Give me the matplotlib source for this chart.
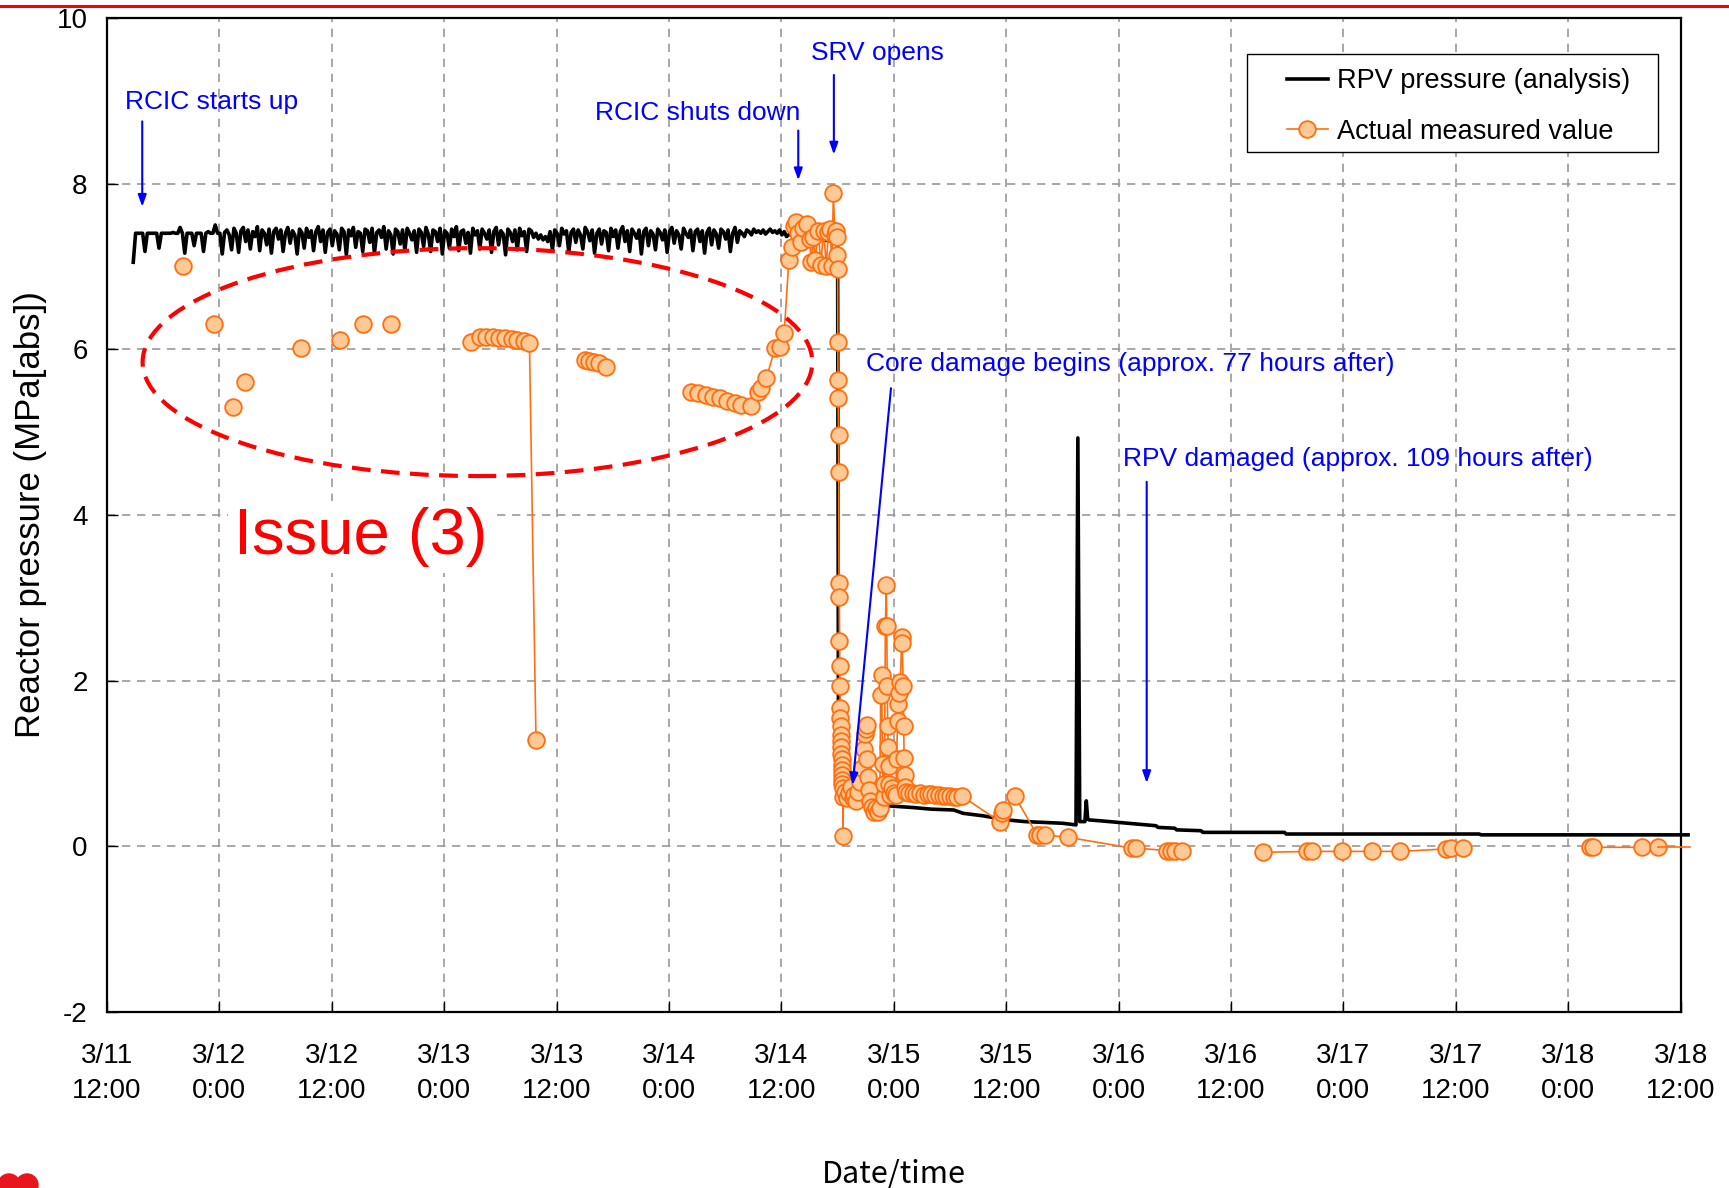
import numpy as np
import matplotlib
matplotlib.use('Agg')
import matplotlib.pyplot as plt
from matplotlib import font_manager
from matplotlib.patches import Ellipse, Rectangle
from matplotlib.lines import Line2D

# time axis: hours counted from 3/11 12:00
tick_hours = [0, 12, 24, 36, 48, 60, 72, 84, 96, 108, 120, 132, 144, 156, 168]
tick_labels = ['3/11\n12:00', '3/12\n0:00', '3/12\n12:00', '3/13\n0:00', '3/13\n12:00',
               '3/14\n0:00', '3/14\n12:00', '3/15\n0:00', '3/15\n12:00', '3/16\n0:00',
               '3/16\n12:00', '3/17\n0:00', '3/17\n12:00', '3/18\n0:00', '3/18\n12:00']

# RPV pressure (analysis) while RCIC cycles, sampled every 0.25 h from 2.8 h
rcic_start = 2.8
rcic_step = 0.25
rcic_p = [
    7.05, 7.40, 7.40, 7.40, 7.40, 7.18, 7.40, 7.40, 7.40, 7.40, 7.40, 7.22, 7.40, 7.40, 7.40, 7.40, 7.40, 7.41, 7.40, 7.40,
    7.47, 7.40, 7.16, 7.40, 7.40, 7.40, 7.25, 7.40, 7.40, 7.40, 7.18, 7.40, 7.42, 7.40, 7.40, 7.50, 7.40, 7.40, 7.15, 7.41,
    7.44, 7.38, 7.20, 7.46, 7.40, 7.17, 7.43, 7.47, 7.30, 7.44, 7.21, 7.42, 7.36, 7.48, 7.19, 7.44, 7.40, 7.26, 7.45, 7.16,
    7.42, 7.46, 7.33, 7.44, 7.18, 7.40, 7.47, 7.28, 7.43, 7.38, 7.15, 7.45, 7.41, 7.22, 7.46, 7.35, 7.43, 7.19, 7.42, 7.48,
    7.30, 7.44, 7.17, 7.41, 7.45, 7.25, 7.43, 7.39, 7.20, 7.46, 7.42, 7.14, 7.44, 7.37, 7.47, 7.23, 7.42, 7.40, 7.18, 7.45,
    7.43, 7.29, 7.46, 7.16, 7.41, 7.44, 7.35, 7.48, 7.21, 7.43, 7.38, 7.15, 7.45, 7.42, 7.27, 7.44, 7.19, 7.46, 7.40, 7.32,
    7.43, 7.17, 7.45, 7.41, 7.24, 7.47, 7.39, 7.18, 7.44, 7.42, 7.30, 7.46, 7.15, 7.43, 7.40, 7.22, 7.45, 7.36, 7.48, 7.19,
    7.42, 7.44, 7.28, 7.41, 7.16, 7.46, 7.38, 7.43, 7.21, 7.45, 7.40, 7.33, 7.44, 7.17, 7.42, 7.47, 7.26, 7.43, 7.39, 7.14,
    7.45, 7.41, 7.30, 7.44, 7.20, 7.46, 7.37, 7.42, 7.18, 7.45, 7.43, 7.35, 7.40, 7.33, 7.38, 7.32, 7.36, 7.30, 7.42, 7.20,
    7.44, 7.40, 7.25, 7.46, 7.39, 7.43, 7.17, 7.41, 7.45, 7.29, 7.44, 7.38, 7.21, 7.47, 7.42, 7.31, 7.44, 7.16, 7.40, 7.45,
    7.27, 7.43, 7.41, 7.19, 7.46, 7.36, 7.44, 7.22, 7.42, 7.48, 7.30, 7.43, 7.18, 7.45, 7.40, 7.34, 7.44, 7.15, 7.42, 7.46,
    7.25, 7.43, 7.39, 7.20, 7.45, 7.41, 7.32, 7.44, 7.17, 7.42, 7.47, 7.28, 7.43, 7.38, 7.21, 7.46, 7.40, 7.35, 7.44, 7.19,
    7.42, 7.45, 7.30, 7.43, 7.16, 7.41, 7.46, 7.26, 7.44, 7.39, 7.22, 7.45, 7.42, 7.33, 7.44, 7.18, 7.40, 7.47, 7.29, 7.43,
    7.40, 7.36, 7.44, 7.42, 7.38, 7.45, 7.41, 7.43, 7.40, 7.44, 7.39, 7.42, 7.45, 7.41, 7.43, 7.40, 7.44, 7.38, 7.42, 7.36,
]

# RPV pressure (analysis) after RCIC
late_h = [73.0, 73.6, 74.5, 75.5, 76.5, 77.5, 78.0, 78.1, 78.5, 80.0, 82.0, 83.4, 86.0, 88.0, 90.4, 91.4,
          93.5, 96.1, 98.0, 100.0, 102.0, 103.45, 103.65, 103.85, 104.4, 104.55, 104.7, 104.85,
          106.0, 108.0, 110.0, 112.0, 112.2, 114.0, 114.2, 116.8, 117.0, 125.7, 125.9, 140.0,
          146.5, 146.7, 168.8]
late_p = [7.40, 7.35, 7.30, 7.35, 7.32, 7.30, 7.28, 0.80, 0.65, 0.58, 0.52, 0.49, 0.47, 0.45, 0.44, 0.40,
          0.37, 0.32, 0.30, 0.29, 0.28, 0.26, 4.93, 0.30, 0.30, 0.55, 0.33, 0.32,
          0.31, 0.29, 0.27, 0.25, 0.23, 0.22, 0.20, 0.19, 0.17, 0.17, 0.15, 0.15,
          0.15, 0.14, 0.14]

# measured values; NaN separates points that are not joined
meas_h = [8.16, np.nan, 11.41, np.nan, 13.49, np.nan, 14.78, np.nan, 20.73, np.nan,
          24.87, np.nan, 27.35, np.nan, 30.30, np.nan,
          38.84, 39.81, 40.5, 41.2, 41.9, 42.5, 43.2, 43.8, 44.5, 45.1, 45.8, np.nan,
          51.0, 51.5, 52.0, 52.5, 53.3, np.nan,
          62.4, 63.1, 63.9, 64.7, 65.4, 66.2, 67.0, 67.7, 68.8, 69.5, 69.8, 70.4, 71.3, 71.8, 72.3,
          72.8, 73.1, 73.3, 73.6, 73.8, 74.1, 74.3, 74.7, 75.0, 75.2, 75.4, 75.6, 75.95, 76.2, 76.5,
          76.8, 77.0, 77.2, 77.4, 77.55, 77.7, 77.8, 77.9, 77.95, 78.0,
          78.02, 78.05, 78.07, 78.1, 78.12, 78.15, 78.17, 78.2, 78.22, 78.25, 78.28, 78.3, 78.32,
          78.34, 78.36, 78.38, 78.4, 78.42, 78.44, 78.46, 78.48, 78.5, 78.52, 78.55, 78.58, 78.62,
          78.8, 79.0, 79.2, 79.4, 79.6, 79.8, 80.0, 80.2, 80.4, 80.6, 80.8, 80.9, 81.0, 81.1, 81.15,
          81.2, 81.3, 81.5, 81.7, 81.9, 82.1, 82.3, 82.5, 82.6, 82.7, 82.8, 82.9, 83.0, 83.1, 83.2,
          83.25, 83.3, 83.35, 83.4, 83.45, 83.5, 83.6, 83.8, 84.0, 84.2, 84.3, 84.4, 84.5, 84.6, 84.7,
          84.85, 84.9, 85.0, 85.05, 85.1, 85.15, 85.2, 85.3, 85.6, 86.0, 86.4, 86.8, 87.2, 87.6, 88.0,
          88.4, 88.8, 89.2, 89.6, 90.0, 90.4, 90.8, 91.25, 95.3, 95.5, 95.7, 96.9, 99.3, 99.6, 100.1,
          102.6, 109.4, 109.9, 113.2, 113.6, 114.0, 114.8, np.nan,
          123.4, 128.1, 128.6, 131.85, 135.1, 138.0, 143.0, 143.5, 144.8, np.nan,
          158.3, 158.7, 163.9, 165.6]
meas_p = [7.01, np.nan, 6.30, np.nan, 5.30, np.nan, 5.61, np.nan, 6.01, np.nan,
          6.11, np.nan, 6.30, np.nan, 6.30, np.nan,
          6.09, 6.15, 6.15, 6.15, 6.14, 6.13, 6.12, 6.11, 6.10, 6.07, 1.28, np.nan,
          5.87, 5.86, 5.85, 5.83, 5.79, np.nan,
          5.49, 5.47, 5.45, 5.43, 5.41, 5.38, 5.35, 5.33, 5.31, 5.48, 5.53, 5.65, 6.01, 6.03, 6.20,
          7.08, 7.24, 7.49, 7.54, 7.40, 7.30, 7.46, 7.51, 7.33, 7.05, 7.36, 7.08, 7.43, 7.02, 7.43,
          7.00, 7.41, 7.45, 7.00, 7.89, 7.38, 7.43, 7.35, 7.14, 6.97,
          6.09, 5.63, 5.41, 4.96, 4.52, 3.18, 3.01, 2.48, 2.18, 1.94, 1.67, 1.55, 1.45,
          1.35, 1.27, 1.20, 1.12, 1.05, 0.98, 0.92, 0.86, 0.80, 0.75, 0.70, 0.13, 0.60,
          0.66, 0.58, 0.65, 0.72, 0.58, 0.62, 0.55, 0.66, 0.78, 0.95, 1.18, 1.36, 1.42, 1.47, 1.05,
          0.84, 0.68, 0.55, 0.48, 0.42, 0.46, 0.42, 0.46, 1.83, 2.07, 1.00, 0.60, 0.75, 2.66, 3.15,
          2.66, 1.94, 1.45, 1.20, 0.97, 0.75, 0.62, 0.70, 0.65, 0.62, 1.05, 1.51, 1.72, 1.85, 1.99,
          2.53, 2.45, 1.94, 1.45, 1.07, 0.86, 0.72, 0.66, 0.64, 0.65, 0.63, 0.64, 0.62, 0.63, 0.63,
          0.62, 0.62, 0.61, 0.61, 0.61, 0.60, 0.60, 0.61, 0.30, 0.40, 0.44, 0.61, 0.14, 0.14, 0.14,
          0.11, -0.02, -0.02, -0.05, -0.05, -0.05, -0.05, np.nan,
          -0.07, -0.06, -0.06, -0.06, -0.06, -0.06, -0.03, -0.02, -0.02, np.nan,
          -0.01, -0.01, -0.01, -0.01]
tail_h = [165.6, 169.0]
tail_p = [-0.01, -0.01]

names = {f.name for f in font_manager.fontManager.ttflist}
NARROW = 'Liberation Sans Narrow' if 'Liberation Sans Narrow' in names else 'Liberation Sans'
SANS = 'Liberation Sans'
BLUE = '#0000FF'
ORANGE = '#FF6F0F'
PEACH = '#FFC995'

fig = plt.figure(figsize=(17.29, 11.88), dpi=100)
ax = fig.add_axes([0.0619, 0.148, 0.9101, 0.837])

rcic_h = rcic_start + rcic_step * np.arange(len(rcic_p))
calc_h = np.concatenate([rcic_h, late_h])
calc_p = np.concatenate([rcic_p, late_p])

ax.plot(calc_h, calc_p, color='black', lw=2.6, zorder=3, clip_on=False,
        label='RPV pressure (analysis)')
ax.plot(meas_h, meas_p, color=ORANGE, lw=1.2, marker='o', ms=12, mfc=PEACH, mec=ORANGE,
        mew=1.3, zorder=4, label='Actual measured value')
ax.plot(tail_h, tail_p, color=ORANGE, lw=1.2, zorder=4, clip_on=False)

ax.set_xlim(0, 168)
ax.set_ylim(-2, 10)
ax.set_xticks(tick_hours)
ax.set_xticklabels(tick_labels, fontfamily=NARROW, fontsize=20, linespacing=1.45)
ax.set_yticks(range(-2, 11, 2))
ax.set_yticklabels([str(v) for v in range(-2, 11, 2)], fontfamily=NARROW, fontsize=20)
ax.tick_params(axis='both', direction='in', length=8, width=1)
ax.tick_params(axis='x', pad=22)
ax.tick_params(axis='y', pad=14)
ax.grid(True, color='#9a9a9a', linestyle=(0, (5, 4)), lw=1.2)
ax.set_axisbelow(True)
for s in ax.spines.values():
    s.set_linewidth(1.6)

ax.set_ylabel('Reactor pressure (MPa[abs])', fontfamily=SANS, fontsize=25)
ax.yaxis.set_label_coords(-0.038, 0.5)
ax.set_xlabel('Date/time', fontfamily='Noto Sans CJK JP', fontsize=22)
ax.xaxis.set_label_coords(0.5, -0.147)

# legend: frame drawn separately so its padding matches the reference box
ax.add_patch(Rectangle((0.7245, 0.8648), 0.2612, 0.0986, transform=ax.transAxes,
                       facecolor='white', edgecolor='black', lw=1.0, zorder=6))
leg = ax.legend(loc='center left', bbox_to_anchor=(0.7499, 0.9108), borderaxespad=0,
                borderpad=0, prop={'family': SANS, 'size': 19.5}, frameon=False,
                handlelength=1.5, handletextpad=0.33, labelspacing=0.9)
leg.set_zorder(7)

# blue event annotations
arrow = dict(arrowstyle='-|>,head_length=0.7,head_width=0.25', color=BLUE, lw=1.5,
             shrinkA=0, shrinkB=0)
ax.text(1.88, 8.98, 'RCIC starts up', color=BLUE, fontfamily=NARROW, fontsize=19, va='center')
ax.annotate('', xy=(3.76, 7.72), xytext=(3.76, 8.75), arrowprops=arrow)
ax.text(52.15, 8.855, 'RCIC shuts down', color=BLUE, fontfamily=NARROW, fontsize=19, va='center')
ax.annotate('', xy=(73.8, 8.04), xytext=(73.8, 8.64), arrowprops=arrow)
ax.text(75.2, 9.57, 'SRV opens', color=BLUE, fontfamily=NARROW, fontsize=19, va='center')
ax.annotate('', xy=(77.6, 8.35), xytext=(77.6, 9.31), arrowprops=arrow)
ax.text(81.0, 5.82, 'Core damage begins (approx. 77 hours after)', color=BLUE,
        fontfamily=SANS, fontsize=19, va='center', zorder=6)
ax.annotate('', xy=(79.6, 0.74), xytext=(83.7, 5.53), arrowprops=arrow, zorder=6)
ax.text(108.5, 4.68, 'RPV damaged (approx. 109 hours after)', color=BLUE,
        fontfamily=NARROW, fontsize=19, va='center')
ax.annotate('', xy=(111.0, 0.765), xytext=(111.0, 4.40), arrowprops=arrow)

# highlighted issue
ax.add_patch(Ellipse((39.55, 5.845), width=71.5, height=2.75, fill=False, edgecolor='#FF0000',
                     lw=3, linestyle=(0, (4.5, 2.5)), zorder=5))
ax.text(13.54, 3.73, 'Issue (3)', color='#FF0000', fontfamily=SANS, fontsize=47, va='center',
        zorder=5, bbox=dict(facecolor='white', edgecolor='none', pad=4))

# slide decorations
fig.add_artist(Line2D([0, 1], [0.995, 0.995], color='#FF0000', lw=2.2, transform=fig.transFigure))
for cx in (9, 27):
    fig.add_artist(Ellipse((cx / 1729, 3 / 1188), width=22 / 1729, height=22 / 1188,
                           color='#E8141E', transform=fig.transFigure))

fig.savefig('out.png', dpi=100)
